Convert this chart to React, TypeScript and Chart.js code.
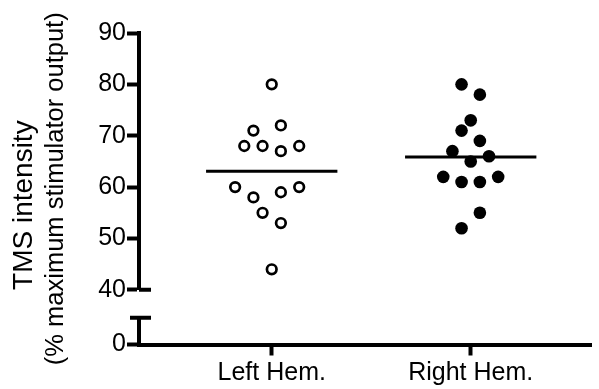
import React, { useEffect, useRef } from 'react';
import { Chart, registerables } from 'chart.js';

Chart.register(...registerables);

// ---- data ----
const categories = ['Left Hem.', 'Right Hem.'];
const leftValues = [80, 71, 72, 68, 68, 67, 68, 60, 58, 59, 60, 55, 53, 44];
const leftColumns = [0, -2, 1, -3, -1, 1, 3, -4, -2, 1, 3, -1, 1, 0];
const rightValues = [80, 78, 73, 71, 69, 67, 66, 65, 62, 61, 61, 62, 55, 52];
const rightColumns = [-1, 1, 0, -1, 1, -2, 2, 0, -3, -1, 1, 3, 1, -1];
const upperTicks = [40, 50, 60, 70, 80, 90];
const lowerTicks = [0];
const yTitleLine1 = 'TMS intensity';
const yTitleLine2 = '(% maximum stimulator output)';

const JITTER = 0.046;
const MEAN_HALF = 0.33;
const FONT = '"Liberation Sans", Arial, Helvetica, sans-serif';

const mean = (a: number[]) => a.reduce((s, v) => s + v, 0) / a.length;

const breakCaps = {
  id: 'breakCaps',
  afterDraw(chart: any) {
    const { ctx, scales } = chart;
    const up = scales.y;
    const low = scales.y0;
    const left = up.right;
    ctx.save();
    ctx.strokeStyle = '#000';
    ctx.lineWidth = 4;
    ctx.lineCap = 'butt';
    ctx.beginPath();
    const y40 = up.getPixelForValue(upperTicks[0]);
    ctx.moveTo(left, y40);
    ctx.lineTo(left + 12, y40);
    ctx.moveTo(left - 9, low.top);
    ctx.lineTo(left + 12, low.top);
    ctx.stroke();
    ctx.restore();
  },
};

const hidden = {
  ticks: { display: false },
  grid: { display: false, drawTicks: false },
  border: { display: false },
};

const axisGrid = { display: true, drawOnChartArea: false, tickLength: 12, tickWidth: 4, tickColor: '#000' };
const axisBorder = { display: true, width: 4, color: '#000' };

export default function App() {
  const ref = useRef<HTMLCanvasElement | null>(null);
  useEffect(() => {
    if (!ref.current) return;
    Chart.defaults.font.family = FONT;
    Chart.defaults.color = '#000';
    const mL = mean(leftValues);
    const mR = mean(rightValues);
    const chart = new Chart(ref.current, {
      type: 'scatter',
      data: {
        datasets: [
          {
            data: leftValues.map((v, i) => ({ x: 1 + leftColumns[i] * JITTER, y: v })),
            pointRadius: 4.8,
            pointBorderWidth: 2.7,
            pointBackgroundColor: '#fff',
            pointBorderColor: '#000',
            xAxisID: 'x',
            yAxisID: 'y',
          },
          {
            data: rightValues.map((v, i) => ({ x: 2 + rightColumns[i] * JITTER, y: v })),
            pointRadius: 6.3,
            pointBorderWidth: 0,
            pointBackgroundColor: '#000',
            pointBorderColor: '#000',
            xAxisID: 'x',
            yAxisID: 'y',
          },
          {
            data: [
              { x: 1 - MEAN_HALF, y: mL },
              { x: 1 + MEAN_HALF, y: mL },
            ],
            showLine: true,
            borderColor: '#000',
            borderWidth: 3,
            pointRadius: 0,
            xAxisID: 'x',
            yAxisID: 'y',
          },
          {
            data: [
              { x: 2 - MEAN_HALF, y: mR },
              { x: 2 + MEAN_HALF, y: mR },
            ],
            showLine: true,
            borderColor: '#000',
            borderWidth: 3,
            pointRadius: 0,
            xAxisID: 'x',
            yAxisID: 'y',
          },
        ],
      },
      options: {
        animation: false,
        responsive: false,
        events: [],
        layout: { padding: { left: 0, top: 33, right: 0, bottom: -1.5 } },
        plugins: { legend: { display: false }, tooltip: { enabled: false }, title: { display: false } },
        scales: {
          x: {
            type: 'linear',
            position: 'bottom',
            min: 0.333,
            max: 2.607,
            afterBuildTicks: (s: any) => {
              s.ticks = categories.map((_, i) => ({ value: i + 1 }));
            },
            ticks: {
              callback: (v: any) => categories[Math.round(v) - 1] ?? '',
              font: { size: 25 },
              color: '#000',
              padding: 2.5,
              autoSkip: false,
              maxRotation: 0,
            },
            grid: { ...axisGrid, tickLength: 11 },
            border: axisBorder,
          },
          y0: {
            type: 'linear',
            position: 'left',
            stack: 'left',
            stackWeight: 27,
            min: 0,
            max: 5,
            afterBuildTicks: (s: any) => {
              s.ticks = lowerTicks.map((v) => ({ value: v }));
            },
            ticks: { font: { size: 25 }, color: '#000', padding: 1, autoSkip: false },
            grid: axisGrid,
            border: axisBorder,
          },
          yGap: {
            type: 'linear',
            position: 'left',
            stack: 'left',
            stackWeight: 28,
            min: 0,
            max: 1,
            ...hidden,
          },
          y: {
            type: 'linear',
            position: 'left',
            stack: 'left',
            stackWeight: 258.5,
            min: 40,
            max: 90,
            afterBuildTicks: (s: any) => {
              s.ticks = upperTicks.map((v) => ({ value: v }));
            },
            ticks: { font: { size: 25 }, color: '#000', padding: 1, autoSkip: false },
            grid: axisGrid,
            border: axisBorder,
          },
          yTitle2: {
            type: 'linear',
            position: 'left',
            weight: 10,
            min: 0,
            max: 1,
            ...hidden,
            title: {
              display: true,
              text: yTitleLine2,
              color: '#000',
              font: { size: 25.5, lineHeight: 1.2 },
              padding: { top: 0, bottom: 26 },
            },
          },
          yTitle1: {
            type: 'linear',
            position: 'left',
            weight: 20,
            stack: 'title1',
            stackWeight: 280,
            min: 0,
            max: 1,
            ...hidden,
            title: {
              display: true,
              text: yTitleLine1,
              color: '#000',
              font: { size: 28, lineHeight: 1.2 },
              padding: { top: 7, bottom: 0 },
            },
          },
          yTitle1Pad: {
            type: 'linear',
            position: 'left',
            weight: 20,
            stack: 'title1',
            stackWeight: 33,
            min: 0,
            max: 1,
            ...hidden,
          },
        },
      } as any,
      plugins: [breakCaps],
    });
    return () => chart.destroy();
  }, []);
  return (
    <div style={{ position: 'absolute', left: 0, top: 0, width: 599, height: 389, background: '#fff' }}>
      <canvas ref={ref} width={599} height={389} style={{ display: 'block' }} />
    </div>
  );
}
